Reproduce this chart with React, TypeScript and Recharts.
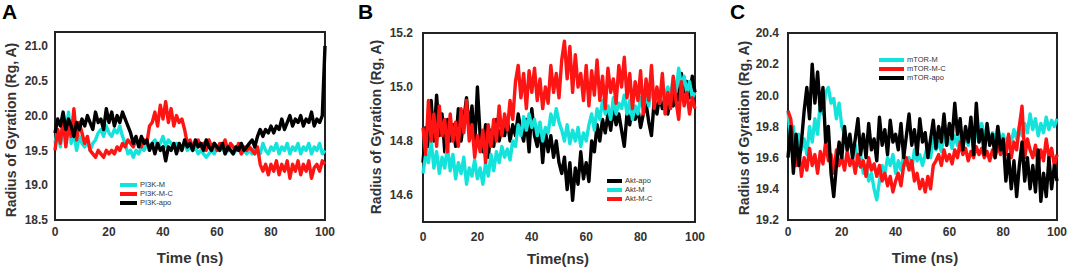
import React from 'react';
import { LineChart, Line, XAxis, YAxis, ReferenceArea, Legend } from 'recharts';

// Time axis (ns), one sample per ns
const TIME: number[] = Array.from({ length: 101 }, (_, i) => i);
const X_TICKS = [0, 20, 40, 60, 80, 100];

// ---------- Panel A : PI3K ----------
const PI3K_M = [
  19.6, 19.8, 19.55, 19.9, 19.7, 20.05, 19.6, 19.75, 19.5, 19.7, 19.6,
  19.55, 19.65, 19.5, 19.6, 19.65, 19.75, 19.8, 19.7, 19.85, 19.75,
  19.7, 19.8, 19.75, 19.85, 19.7, 19.6, 19.45, 19.5, 19.4, 19.5,
  19.45, 19.55, 19.5, 19.6, 19.55, 19.6, 19.65, 19.55, 19.6, 19.7,
  19.55, 19.65, 19.6, 19.55, 19.6, 19.5, 19.55, 19.6, 19.5, 19.55,
  19.5, 19.55, 19.45, 19.5, 19.45, 19.4, 19.45, 19.5, 19.45, 19.55,
  19.5, 19.55, 19.45, 19.5, 19.55, 19.45, 19.5, 19.55, 19.45, 19.5,
  19.45, 19.5, 19.45, 19.55, 19.5, 19.45, 19.6, 19.5, 19.45, 19.55,
  19.5, 19.6, 19.45, 19.55, 19.5, 19.6, 19.45, 19.55, 19.5, 19.6,
  19.45, 19.55, 19.5, 19.6, 19.45, 19.55, 19.5, 19.6, 19.45, 19.5,
];
const PI3K_MC = [
  19.5, 19.8, 19.6, 19.95, 19.55, 19.85, 19.7, 20.1, 19.65, 19.9, 19.75,
  19.6, 19.7, 19.5, 19.45, 19.4, 19.5, 19.45, 19.4, 19.5, 19.45,
  19.5, 19.45, 19.55, 19.5, 19.6, 19.55, 19.65, 19.6, 19.55, 19.65,
  19.6, 19.55, 19.65, 19.6, 19.85, 19.9, 20.05, 19.85, 20.15, 19.95,
  20.2, 19.9, 20.1, 19.85, 20.0, 19.9, 19.95, 19.8, 19.6, 19.65,
  19.55, 19.6, 19.65, 19.55, 19.6, 19.5, 19.65, 19.55, 19.6, 19.5,
  19.6, 19.55, 19.65, 19.5, 19.6, 19.55, 19.5, 19.6, 19.45, 19.55,
  19.5, 19.55, 19.5, 19.45, 19.55, 19.3, 19.2, 19.3, 19.15, 19.3,
  19.2, 19.35, 19.15, 19.3, 19.2, 19.35, 19.1, 19.3, 19.2, 19.35,
  19.15, 19.3, 19.2, 19.35, 19.1, 19.25, 19.3, 19.2, 19.35, 19.3,
];
const PI3K_APO = [
  19.75, 19.95, 19.85, 20.05, 19.8, 19.95, 19.85, 19.7, 19.9, 19.8, 19.95,
  19.85, 20.0, 19.9, 19.8, 20.05, 19.9, 19.95, 19.8, 20.1, 19.9,
  20.05, 19.85, 20.0, 19.9, 20.05, 19.95, 19.85, 19.75, 19.6, 19.7,
  19.55, 19.7, 19.6, 19.65, 19.5, 19.6, 19.45, 19.6, 19.5, 19.55,
  19.35, 19.55, 19.5, 19.6, 19.45, 19.6, 19.5, 19.65, 19.55, 19.6,
  19.5, 19.65, 19.55, 19.6, 19.5, 19.65, 19.55, 19.5, 19.6, 19.55,
  19.5, 19.6, 19.45, 19.55, 19.5, 19.45, 19.55, 19.5, 19.6, 19.5,
  19.55, 19.6, 19.65, 19.55, 19.7, 19.8, 19.7, 19.8, 19.75, 19.85,
  19.75, 19.85, 19.8, 19.95, 19.8, 19.9, 20.0, 19.85, 19.95, 19.9,
  20.0, 19.85, 19.95, 19.9, 20.05, 19.85, 19.95, 19.9, 20.0, 21.0,
];
const A_Y_TICKS = [18.5, 19.0, 19.5, 20.0, 20.5, 21.0];

// ---------- Panel B : Akt ----------
const AKT_APO = [
  14.72, 14.85, 14.78, 14.95, 14.8, 14.97, 14.82, 14.9, 14.76, 14.88, 14.8,
  14.86, 14.78, 14.92, 14.8, 14.88, 14.96, 14.84, 14.93, 14.78, 15.0,
  14.82, 14.76, 14.86, 14.74, 14.84, 14.78, 14.88, 14.8, 14.85, 14.82,
  14.88, 14.8, 14.86, 14.82, 14.9, 14.84, 14.8, 14.88, 14.76, 14.92,
  14.82, 14.78, 14.86, 14.72, 14.84, 14.76, 14.82, 14.74, 14.8, 14.72,
  14.68, 14.74, 14.62, 14.72, 14.58, 14.7, 14.64, 14.76, 14.66, 14.72,
  14.65, 14.8, 14.76, 14.86, 14.8, 14.88, 14.83, 14.9, 14.84, 14.92,
  14.86, 14.9, 14.84, 14.78, 14.9, 14.86, 14.93, 14.88, 14.92, 14.85,
  14.9, 14.94, 14.87, 14.82, 14.95, 14.9, 14.97, 14.92, 14.95, 14.9,
  14.96, 14.93, 15.0, 14.95, 15.05, 14.98, 15.02, 14.96, 15.04, 14.98,
];
const AKT_M = [
  14.68, 14.75, 14.72, 14.8, 14.7, 14.76, 14.68, 14.74, 14.7, 14.78, 14.69,
  14.75, 14.66, 14.72, 14.68, 14.74, 14.64, 14.7, 14.67, 14.73, 14.66,
  14.7, 14.64, 14.72, 14.67, 14.75, 14.69, 14.76, 14.72, 14.78, 14.74,
  14.77, 14.73, 14.8, 14.78, 14.86, 14.82, 14.89, 14.84, 14.9, 14.85,
  14.88, 14.82, 14.87, 14.8, 14.85, 14.83, 14.9, 14.86, 14.92, 14.87,
  14.84, 14.8, 14.86, 14.79, 14.84, 14.8, 14.85, 14.78, 14.83, 14.8,
  14.86, 14.9, 14.84, 14.92, 14.88, 14.95, 14.9, 14.93, 14.88, 14.96,
  14.9, 14.94, 14.92, 14.97, 14.9, 14.95, 14.88, 14.93, 14.9, 14.96,
  14.92, 14.97, 14.93, 15.0, 14.95, 14.98, 14.94, 15.02, 14.96, 15.0,
  14.97, 15.03, 14.98, 15.07, 15.0, 15.04, 14.98, 15.02, 14.96, 14.98,
];
const AKT_MC = [
  14.85, 14.75, 14.95, 14.8, 14.9, 14.78, 14.93, 14.82, 14.88, 14.76, 14.9,
  14.8, 14.87, 14.78, 14.92, 14.83, 14.95, 14.8, 14.86, 14.74, 14.82,
  14.76, 14.84, 14.72, 14.86, 14.78, 14.88, 14.8, 14.93, 14.82, 14.9,
  14.84, 14.95, 14.88, 15.02, 15.08, 14.96, 15.05, 14.92, 15.06, 14.98,
  15.07, 14.95, 15.03, 14.92, 15.0, 14.94, 15.08, 14.98, 15.05, 14.96,
  15.1, 15.17, 15.03, 15.15, 14.98, 15.12, 15.0, 15.05, 14.95, 15.08,
  14.93, 15.06, 14.97, 15.1, 14.95, 15.04, 14.92, 15.07, 14.98, 15.03,
  14.94, 15.08, 15.0, 15.11, 14.96, 15.05, 14.92, 15.02, 14.95, 15.06,
  14.9, 15.03, 14.95, 15.08, 14.92, 15.0, 14.94, 15.05, 14.9, 14.98,
  14.92, 15.04, 14.95, 14.88, 15.02, 14.93, 14.98, 14.9, 14.96, 14.92,
];
const B_Y_TICKS = [14.6, 14.8, 15.0, 15.2];

// ---------- Panel C : mTOR ----------
const MTOR_M = [
  19.9, 19.7, 19.8, 19.6, 19.75, 19.65, 19.72, 19.62, 19.8, 19.7, 19.85,
  19.75, 19.95, 19.88, 20.02, 20.05, 19.95, 19.98, 19.85, 19.95, 19.8,
  19.75, 19.65, 19.72, 19.6, 19.68, 19.55, 19.62, 19.5, 19.55, 19.45,
  19.5, 19.4, 19.33, 19.45, 19.55, 19.5, 19.6, 19.55, 19.62, 19.5,
  19.58, 19.52, 19.62, 19.55, 19.6, 19.52, 19.65, 19.58, 19.62, 19.55,
  19.62, 19.68, 19.6, 19.72, 19.65, 19.7, 19.64, 19.75, 19.68, 19.72,
  19.66, 19.74, 19.68, 19.78, 19.7, 19.75, 19.68, 19.8, 19.72, 19.76,
  19.7, 19.82, 19.74, 19.78, 19.7, 19.76, 19.72, 19.8, 19.7, 19.75,
  19.68, 19.74, 19.7, 19.78, 19.72, 19.8, 19.74, 19.82, 19.76, 19.88,
  19.78, 19.85, 19.74, 19.82, 19.76, 19.86, 19.78, 19.84, 19.8, 19.85,
];
const MTOR_MC = [
  19.9, 19.85, 19.7, 19.55, 19.65, 19.48, 19.6, 19.52, 19.66, 19.55, 19.62,
  19.5, 19.64, 19.56, 19.7, 19.58, 19.62, 19.5, 19.65, 19.55, 19.6,
  19.52, 19.64, 19.55, 19.6, 19.5, 19.62, 19.54, 19.58, 19.48, 19.6,
  19.52, 19.56, 19.48, 19.55, 19.45, 19.5, 19.42, 19.48, 19.38, 19.45,
  19.5, 19.42, 19.55, 19.6, 19.52, 19.58, 19.45, 19.5, 19.4, 19.46,
  19.38, 19.48, 19.4, 19.55, 19.58, 19.62, 19.55, 19.65, 19.58, 19.62,
  19.56, 19.65, 19.6, 19.7, 19.62, 19.66, 19.58, 19.64, 19.6, 19.67,
  19.62, 19.66, 19.6, 19.64, 19.58, 19.65, 19.6, 19.68, 19.62, 19.7,
  19.62, 19.75, 19.6, 19.7, 19.65, 19.8, 19.93, 19.6, 19.72, 19.65,
  19.6, 19.68, 19.55, 19.65, 19.58, 19.72, 19.6, 19.66, 19.55, 19.62,
];
const MTOR_APO = [
  19.6, 19.8, 19.5, 19.75, 19.55, 19.7, 19.9, 20.05, 19.85, 20.2, 19.95,
  20.15, 19.9, 20.05, 19.7, 19.8, 19.5, 19.35, 19.55, 19.7, 19.6,
  19.8, 19.65, 19.75, 19.6, 19.72, 19.85, 19.62, 19.75, 19.6, 19.82,
  19.65, 19.72, 19.58, 19.86, 19.68, 19.78, 19.62, 19.84, 19.7, 19.75,
  19.65, 19.82, 19.6, 19.74, 19.88, 19.68, 19.78, 19.62, 19.85, 19.7,
  19.76, 19.6, 19.72, 19.84, 19.66, 19.8, 19.7, 19.88, 19.68, 19.82,
  19.72, 19.95, 19.75, 19.85, 19.65, 19.8, 19.7, 19.86, 19.62, 19.95,
  19.7, 19.78, 19.62, 19.82, 19.68, 19.75, 19.6, 19.8, 19.65, 19.72,
  19.45, 19.62, 19.4, 19.58, 19.35, 19.55, 19.7, 19.45, 19.6, 19.4,
  19.55, 19.38, 19.65, 19.32, 19.5, 19.35, 19.6, 19.4, 19.55, 19.45,
];
const C_Y_TICKS = [19.2, 19.4, 19.6, 19.8, 20.0, 20.2, 20.4];

const CYAN = '#14e3dc';
const RED = '#ff1414';
const BLACK = '#000000';
const FONT = '"Liberation Sans", Arial, Helvetica, sans-serif';

const dataA = TIME.map((t, i) => ({ t, m: PI3K_M[i], mc: PI3K_MC[i], apo: PI3K_APO[i] }));
const dataB = TIME.map((t, i) => ({ t, apo: AKT_APO[i], m: AKT_M[i], mc: AKT_MC[i] }));
const dataC = TIME.map((t, i) => ({ t, m: MTOR_M[i], mc: MTOR_MC[i], apo: MTOR_APO[i] }));

type Series = { key: string; name: string; color: string };

type PanelProps = {
  left: number;
  letter: string;
  letterLeft: number;
  data: any[];
  series: Series[];
  yDomain: [number, number];
  yTicks: number[];
  tickFmt: (v: number) => string;
  marginLeft: number;
  yAxisWidth: number;
  marginRight: number;
  marginTop: number;
  marginBottom: number;
  xTickMargin: number;
  yTickMargin: number;
  legendLeft: number;
  legendTop: number;
  legendLine: number;
  yTitleX: number;
  yTitleY: number;
  xTitle: string;
  xTitleX: number;
  xTitleY: number;
};

function Panel(p: PanelProps) {
  const W = 360;
  const H = 270;
  const legendContent = () => (
    <div style={{ fontFamily: FONT, fontSize: 7.5, color: '#333', lineHeight: '9px' }}>
      {p.series.map((s) => (
        <div key={s.key} style={{ display: 'flex', alignItems: 'center', height: 9 }}>
          <div style={{ width: p.legendLine, height: 4, background: s.color, marginRight: 3 }} />
          <span>{s.name}</span>
        </div>
      ))}
    </div>
  );
  return (
    <div style={{ position: 'absolute', left: p.left, top: 0, width: W, height: H }}>
      <LineChart
        width={W}
        height={H}
        data={p.data}
        margin={{ top: p.marginTop, right: p.marginRight, bottom: p.marginBottom, left: p.marginLeft }}
      >
        <XAxis
          dataKey="t"
          type="number"
          domain={[0, 100]}
          ticks={X_TICKS}
          axisLine={false}
          tickLine={false}
          tickSize={0}
          tickMargin={p.xTickMargin}
          height={20}
          tick={{ fill: '#333', fontSize: 12, fontWeight: 700, fontFamily: FONT }}
        />
        <YAxis
          type="number"
          domain={p.yDomain}
          ticks={p.yTicks}
          allowDataOverflow
          axisLine={false}
          tickLine={false}
          tickSize={0}
          tickMargin={p.yTickMargin}
          width={p.yAxisWidth}
          tickFormatter={p.tickFmt}
          tick={{ fill: '#333', fontSize: 12, fontWeight: 700, fontFamily: FONT }}
        />
        {p.series.map((s) => (
          <Line
            key={s.key}
            type="linear"
            dataKey={s.key}
            name={s.name}
            stroke={s.color}
            strokeWidth={3.4}
            strokeLinejoin="round"
            dot={false}
            activeDot={false}
            isAnimationActive={false}
          />
        ))}
        <ReferenceArea
          x1={0}
          x2={100}
          y1={p.yDomain[0]}
          y2={p.yDomain[1]}
          fill="none"
          fillOpacity={0}
          stroke="#222"
          strokeWidth={2}
          ifOverflow="visible"
        />
        <Legend
          layout="vertical"
          align="center"
          verticalAlign="middle"
          content={legendContent}
          wrapperStyle={{ left: p.legendLeft, top: p.legendTop, width: 'auto', height: 'auto' }}
        />
      </LineChart>
      <div
        style={{
          position: 'absolute',
          left: p.letterLeft,
          top: 0,
          fontFamily: FONT,
          fontWeight: 700,
          fontSize: 21,
          lineHeight: '24px',
          color: '#000',
        }}
      >
        {p.letter}
      </div>
      <div
        style={{
          position: 'absolute',
          left: p.yTitleX,
          top: p.yTitleY,
          transform: 'translate(-50%, -50%) rotate(-90deg)',
          whiteSpace: 'nowrap',
          fontFamily: FONT,
          fontWeight: 700,
          fontSize: 14,
          color: '#333',
        }}
      >
        Radius of Gyration (Rg, A)
      </div>
      <div
        style={{
          position: 'absolute',
          left: p.xTitleX,
          top: p.xTitleY,
          transform: 'translate(-50%, -50%)',
          whiteSpace: 'nowrap',
          fontFamily: FONT,
          fontWeight: 700,
          fontSize: 15,
          color: '#333',
        }}
      >
        {p.xTitle}
      </div>
    </div>
  );
}

const f1 = (v: number) => v.toFixed(1);

export default function App() {
  return (
    <div style={{ position: 'absolute', left: 0, top: 0, width: 1072, height: 270, background: '#fff', overflow: 'hidden' }}>
      <Panel
        left={0}
        letter="A"
        letterLeft={2}
        data={dataA}
        series={[
          { key: 'm', name: 'PI3K-M', color: CYAN },
          { key: 'mc', name: 'PI3K-M-C', color: RED },
          { key: 'apo', name: 'PI3K-apo', color: BLACK },
        ]}
        yDomain={[18.5, 21.2]}
        yTicks={A_Y_TICKS}
        tickFmt={f1}
        marginLeft={10}
        yAxisWidth={45}
        marginRight={35}
        marginTop={32}
        marginBottom={30}
        xTickMargin={7}
        yTickMargin={7}
        legendLeft={120}
        legendTop={180}
        legendLine={17}
        yTitleX={11}
        yTitleY={130}
        xTitle="Time (ns)"
        xTitleX={190}
        xTitleY={257}
      />
      <Panel
        left={355}
        letter="B"
        letterLeft={3}
        data={dataB}
        series={[
          { key: 'apo', name: 'Akt-apo', color: BLACK },
          { key: 'm', name: 'Akt-M', color: CYAN },
          { key: 'mc', name: 'Akt-M-C', color: RED },
        ]}
        yDomain={[14.5, 15.2]}
        yTicks={B_Y_TICKS}
        tickFmt={f1}
        marginLeft={10}
        yAxisWidth={58}
        marginRight={20}
        marginTop={33}
        marginBottom={28}
        xTickMargin={10}
        yTickMargin={10}
        legendLeft={252}
        legendTop={176}
        legendLine={15}
        yTitleX={21}
        yTitleY={127}
        xTitle="Time(ns)"
        xTitleX={203}
        xTitleY={258}
      />
      <Panel
        left={712}
        letter="C"
        letterLeft={18}
        data={dataC}
        series={[
          { key: 'm', name: 'mTOR-M', color: CYAN },
          { key: 'mc', name: 'mTOR-M-C', color: RED },
          { key: 'apo', name: 'mTOR-apo', color: BLACK },
        ]}
        yDomain={[19.2, 20.4]}
        yTicks={C_Y_TICKS}
        tickFmt={f1}
        marginLeft={10}
        yAxisWidth={66}
        marginRight={15}
        marginTop={33}
        marginBottom={30}
        xTickMargin={7}
        yTickMargin={9}
        legendLeft={167}
        legendTop={55}
        legendLine={25}
        yTitleX={32}
        yTitleY={128}
        xTitle="Time (ns)"
        xTitleX={213}
        xTitleY={257}
      />
    </div>
  );
}
